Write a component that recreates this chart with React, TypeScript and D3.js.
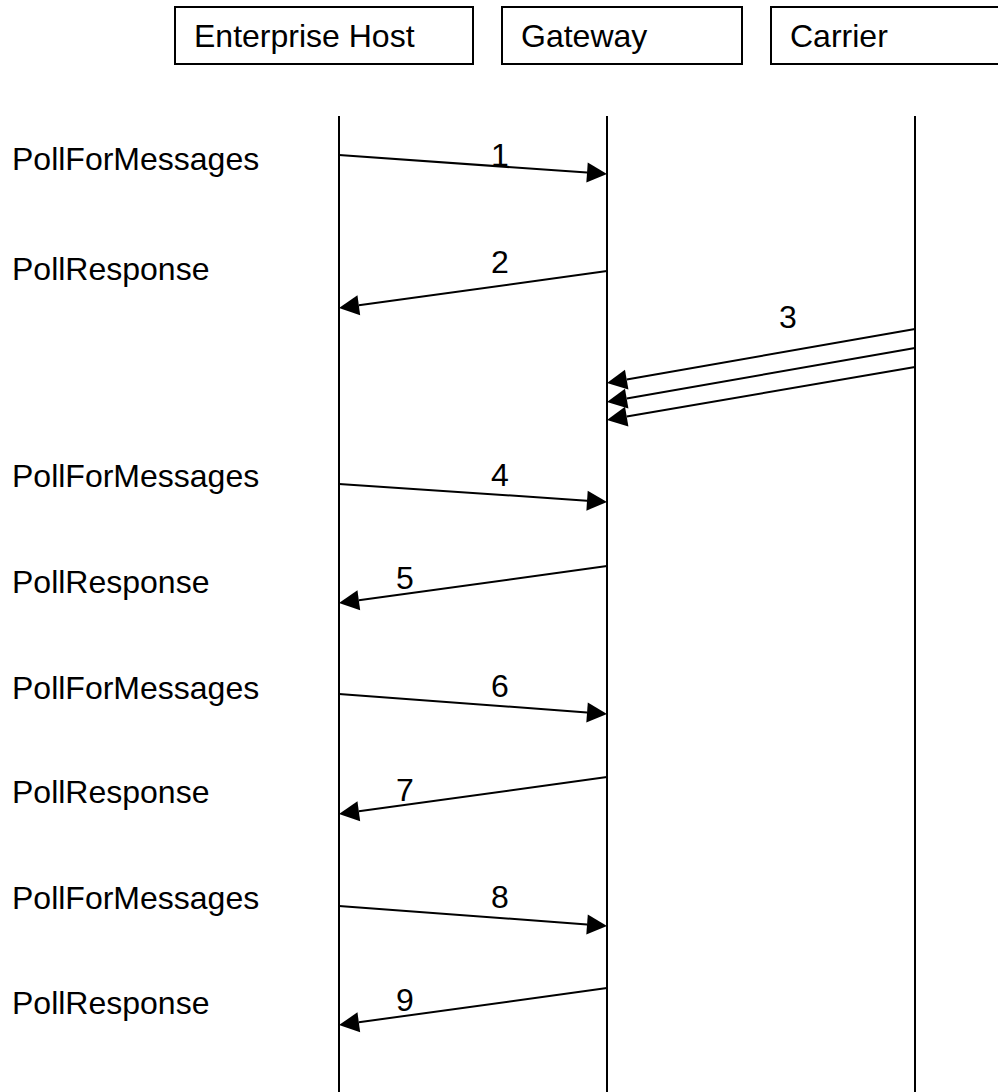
import React from "react";
import * as d3 from "d3";

// participants across the top
const participants = ["Enterprise Host", "Gateway", "Carrier"];

// call names on the left, with the time row they sit on
const stepNames = [
  "PollForMessages",
  "PollResponse",
  "PollForMessages",
  "PollResponse",
  "PollForMessages",
  "PollResponse",
  "PollForMessages",
  "PollResponse",
];
const stepTimes = [170, 280, 487, 593, 699, 803, 909, 1014];

// messages: number, sender, receiver, send time, arrive time
const msgLabels = ["1", "2", "3", "", "", "4", "5", "6", "7", "8", "9"];
const msgFrom = ["Enterprise Host", "Gateway", "Carrier", "Carrier", "Carrier", "Enterprise Host", "Gateway", "Enterprise Host", "Gateway", "Enterprise Host", "Gateway"];
const msgTo = ["Gateway", "Enterprise Host", "Gateway", "Gateway", "Gateway", "Gateway", "Enterprise Host", "Gateway", "Enterprise Host", "Gateway", "Enterprise Host"];
const msgSend = [155, 271, 329, 348, 367, 484, 566, 694, 777, 906, 988];
const msgArrive = [174, 308, 383, 402, 420, 502, 603, 714, 814, 926, 1025];

// layout
const width = 998;
const height = 1092;
const font = "'Liberation Sans', Arial, sans-serif";
const fontSize = 32;
const lifelineX = [339, 607, 915];
const boxX = [
  [175, 473],
  [502, 742],
  [771, 1000],
];
const boxTop = 7;
const boxBottom = 64;
const lifeTop = 116;
const labelX = [500, 500, 788, 0, 0, 500, 405, 500, 405, 500, 405];
const labelY = [166, 273, 328, 0, 0, 486, 589, 697, 801, 908, 1011];
const headLen = 20;
const headHalf = 10;

function arrowHead(x1: number, y1: number, x2: number, y2: number) {
  const dx = x2 - x1;
  const dy = y2 - y1;
  const len = Math.hypot(dx, dy);
  const ux = dx / len;
  const uy = dy / len;
  const bx = x2 - ux * headLen;
  const by = y2 - uy * headLen;
  return {
    base: [bx, by],
    points: [
      [x2, y2],
      [bx - uy * headHalf, by + ux * headHalf],
      [bx + uy * headHalf, by - ux * headHalf],
    ],
  };
}

export default function App() {
  const x = d3.scaleOrdinal<string, number>().domain(participants).range(lifelineX);
  const y = d3.scaleLinear().domain([0, height]).range([0, height]);

  return (
    <svg
      width={width}
      height={height}
      style={{ position: "absolute", left: 0, top: 0, background: "#fff" }}
      fontFamily={font}
      fontSize={fontSize}
    >
      <rect width={width} height={height} fill="#fff" />
      {participants.map((p, i) => (
        <g key={p}>
          <rect
            x={boxX[i][0]}
            y={boxTop}
            width={boxX[i][1] - boxX[i][0]}
            height={boxBottom - boxTop}
            fill="none"
            stroke="#000"
            strokeWidth={2}
          />
          <text x={boxX[i][0] + 19} y={47} fill="#000">
            {p}
          </text>
          <line x1={x(p)} x2={x(p)} y1={lifeTop} y2={height} stroke="#000" strokeWidth={2} />
        </g>
      ))}
      {stepNames.map((s, i) => (
        <text key={i} x={12} y={y(stepTimes[i])} fill="#000">
          {s}
        </text>
      ))}
      {msgLabels.map((m, i) => {
        const x1 = x(msgFrom[i]);
        const x2 = x(msgTo[i]);
        const y1 = y(msgSend[i]);
        const y2 = y(msgArrive[i]);
        const head = arrowHead(x1, y1, x2, y2);
        return (
          <g key={i}>
            <line x1={x1} y1={y1} x2={head.base[0]} y2={head.base[1]} stroke="#000" strokeWidth={2} />
            <polygon points={head.points.map((p) => p.join(",")).join(" ")} fill="#000" />
            {m && (
              <text x={labelX[i]} y={labelY[i]} textAnchor="middle" fill="#000">
                {m}
              </text>
            )}
          </g>
        );
      })}
    </svg>
  );
}
